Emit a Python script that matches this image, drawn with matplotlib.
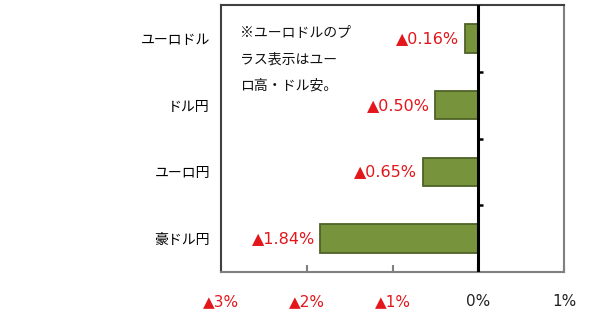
import matplotlib
matplotlib.use("Agg")
import matplotlib.pyplot as plt

categories = ["ユーロドル", "ドル円", "ユーロ円", "豪ドル円"]
values = [-0.16, -0.50, -0.65, -1.84]
xticks = [-3, -2, -1, 0, 1]
xticklabels = ["▲3%", "▲2%", "▲1%", "0%", "1%"]
value_labels = ["▲0.16%", "▲0.50%", "▲0.65%", "▲1.84%"]
boundaries = [0.5, 1.5, 2.5]
note = "※ユーロドルのプ\nラス表示はユー\nロ高・ドル安。"

JP = ["Noto Sans CJK JP", "DejaVu Sans"]
NUM = ["DejaVu Sans", "Noto Sans CJK JP"]
RED = "#E3161C"

fig = plt.figure(figsize=(6, 3.12), dpi=100)
fig.subplots_adjust(left=221/600, right=564/600, top=1-5/312, bottom=1-272/312)
ax = fig.add_subplot(111)

ypos = list(range(len(categories)))
ax.barh(ypos, values, height=0.43, color="#77933C", edgecolor="#4F6228", linewidth=1.3, zorder=2)
ax.set_xlim(-3, 1)
ax.set_ylim(len(categories) - 0.5, -0.5)

ax.set_yticks(ypos)
ax.set_yticklabels(categories, fontfamily=JP, fontsize=10)
ax.tick_params(axis="y", length=0, pad=8)

ax.set_xticks(xticks)
ax.set_xticklabels(xticklabels, fontfamily=NUM, fontsize=11)
for lab, v in zip(ax.get_xticklabels(), xticks):
    lab.set_color(RED if v < 0 else "#222222")
ax.tick_params(axis="x", direction="in", length=5, width=1.5, color="#808080", pad=16)

for s in ["left", "right", "top", "bottom"]:
    ax.spines[s].set_linewidth(1.5)
ax.spines["left"].set_color("#404040")
ax.spines["top"].set_color("#404040")
ax.spines["right"].set_color("#808080")
ax.spines["bottom"].set_color("#808080")

# zero axis with category boundary ticks
ax.axvline(0, color="black", linewidth=2.2, zorder=3)
for b in boundaries:
    ax.plot([0, 0.06], [b, b], color="black", linewidth=1.8, zorder=3, solid_capstyle="butt")

for y, v, t in zip(ypos, values, value_labels):
    ax.annotate(t, xy=(v, y), xytext=(-4, 0), textcoords="offset points",
                ha="right", va="center", color=RED, fontsize=11.5, fontfamily=NUM)

ax.text(0.055, 0.921, note, transform=ax.transAxes, ha="left", va="top",
        fontsize=10, fontfamily=JP, linespacing=2.1, color="#111111")

fig.savefig("out.png", dpi=100)
